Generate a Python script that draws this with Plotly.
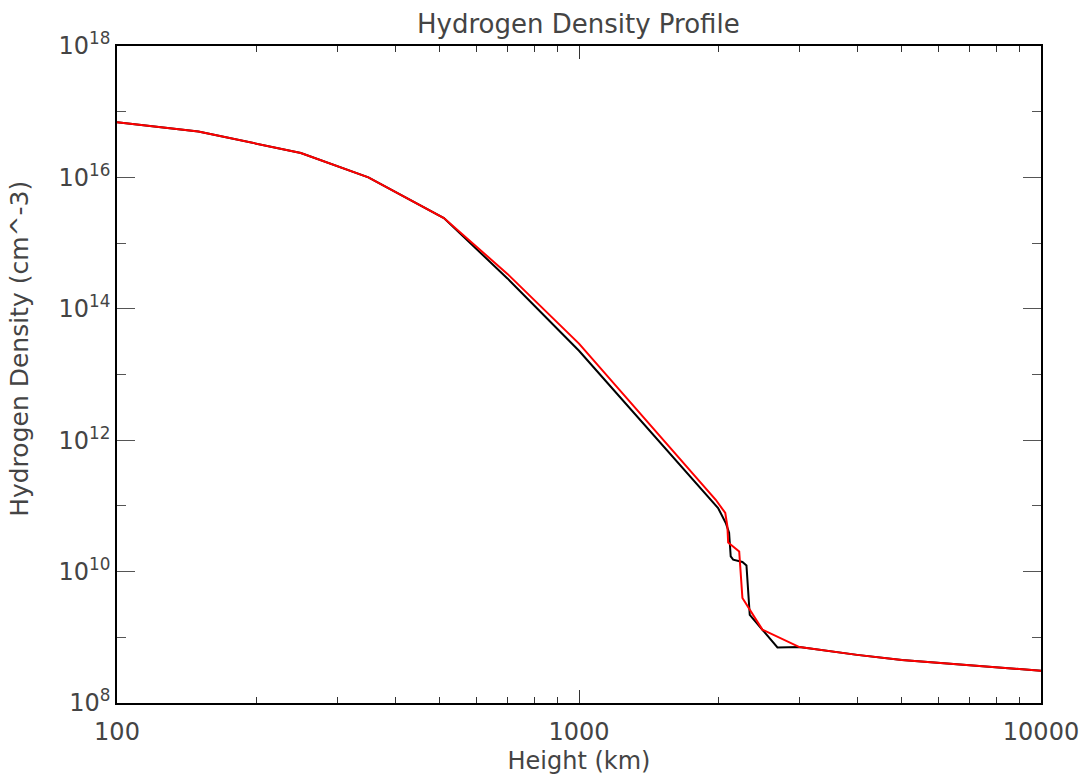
import plotly.graph_objects as go

# Height grid (km) and hydrogen density (cm^-3) for the two atmosphere models
height_black = [100, 150, 250, 350, 510, 700, 1000, 1500, 1745, 2000, 2078, 2113,
                2130, 2156, 2258, 2304, 2342, 2494, 2689, 3000, 4000, 5000, 10000]
density_black = [6.9e16, 5.0e16, 2.35e16, 1.0e16, 2.4e15, 2.9e14, 2.3e13, 9.2e11,
                 2.78e11, 9.3e10, 5.5e10, 3.9e10, 1.7e10, 1.52e10, 1.4e10, 1.24e10,
                 2.2e9, 1.31e9, 7.0e8, 7.1e8, 5.4e8, 4.5e8, 3.1e8]

height_red = [100, 150, 250, 350, 510, 700, 1000, 1500, 1800, 1977, 2073, 2095,
              2103, 2184, 2222, 2258, 2494, 3000, 4000, 5000, 10000]
density_red = [6.9e16, 5.0e16, 2.35e16, 1.0e16, 2.4e15, 3.4e14, 2.95e13, 1.15e12,
               2.7e11, 1.24e11, 7.8e10, 4.9e10, 2.78e10, 2.29e10, 2.03e10, 3.96e9,
               1.31e9, 7.1e8, 5.4e8, 4.5e8, 3.1e8]

# Axis ticks
x_major = [100, 1000, 10000]
x_major_text = ["100", "1000", "10000"]
x_minor = [200, 300, 400, 500, 600, 700, 800, 900,
           2000, 3000, 4000, 5000, 6000, 7000, 8000, 9000]
y_major = [1e8, 1e10, 1e12, 1e14, 1e16, 1e18]
y_major_text = ["10<sup>8</sup>", "10<sup>10</sup>", "10<sup>12</sup>",
                "10<sup>14</sup>", "10<sup>16</sup>", "10<sup>18</sup>"]
y_minor = [1e9, 1e11, 1e13, 1e15, 1e17]

FONT = "DejaVu Sans"
TEXT = "#444444"

fig = go.Figure()
fig.add_trace(go.Scatter(x=height_black, y=density_black, mode="lines",
                         line=dict(color="black", width=2), showlegend=False))
fig.add_trace(go.Scatter(x=height_red, y=density_red, mode="lines",
                         line=dict(color="#ff0000", width=2), showlegend=False))

fig.update_layout(
    width=1081, height=775,
    margin=dict(l=117, r=40, t=46, b=72, autoexpand=False),
    paper_bgcolor="white", plot_bgcolor="white",
    font=dict(family=FONT, color=TEXT, size=22),
    title=dict(text="Hydrogen Density Profile", x=0.535, xanchor="center",
               y=0.969, yanchor="middle", font=dict(size=26, color=TEXT)),
)

# Vertical axis label, placed as in the IDL-style layout (slightly above centre)
fig.add_annotation(
    text="Hydrogen Density (cm^-3)", textangle=-90,
    xref="paper", yref="paper", x=-0.105, y=0.539,
    xanchor="center", yanchor="middle", showarrow=False,
    font=dict(size=25, color=TEXT),
)

fig.update_xaxes(
    type="log", range=[2, 4], automargin=False,
    title=dict(text="Height (km)", font=dict(size=24, color=TEXT), standoff=8),
    tickmode="array", tickvals=x_major, ticktext=x_major_text,
    ticks="inside", ticklen=13, tickwidth=1.3, tickcolor="#333",
    tickfont=dict(size=24, color=TEXT), ticklabelstandoff=6,
    minor=dict(tickmode="array", tickvals=x_minor, ticks="inside", ticklen=6,
               tickwidth=1.3, tickcolor="#333", showgrid=False),
    showline=True, linecolor="black", linewidth=1.5, mirror="allticks",
    showgrid=False, zeroline=False,
)
fig.update_yaxes(
    type="log", range=[8, 18], automargin=False,
    tickmode="array", tickvals=y_major, ticktext=y_major_text,
    ticks="inside", ticklen=18, tickwidth=1.3, tickcolor="#555",
    tickfont=dict(size=24, color=TEXT),
    minor=dict(tickmode="array", tickvals=y_minor, ticks="inside", ticklen=9,
               tickwidth=1.3, tickcolor="#555", showgrid=False),
    showline=True, linecolor="black", linewidth=1.5, mirror="allticks",
    showgrid=False, zeroline=False,
)

fig.write_html("out.html")
